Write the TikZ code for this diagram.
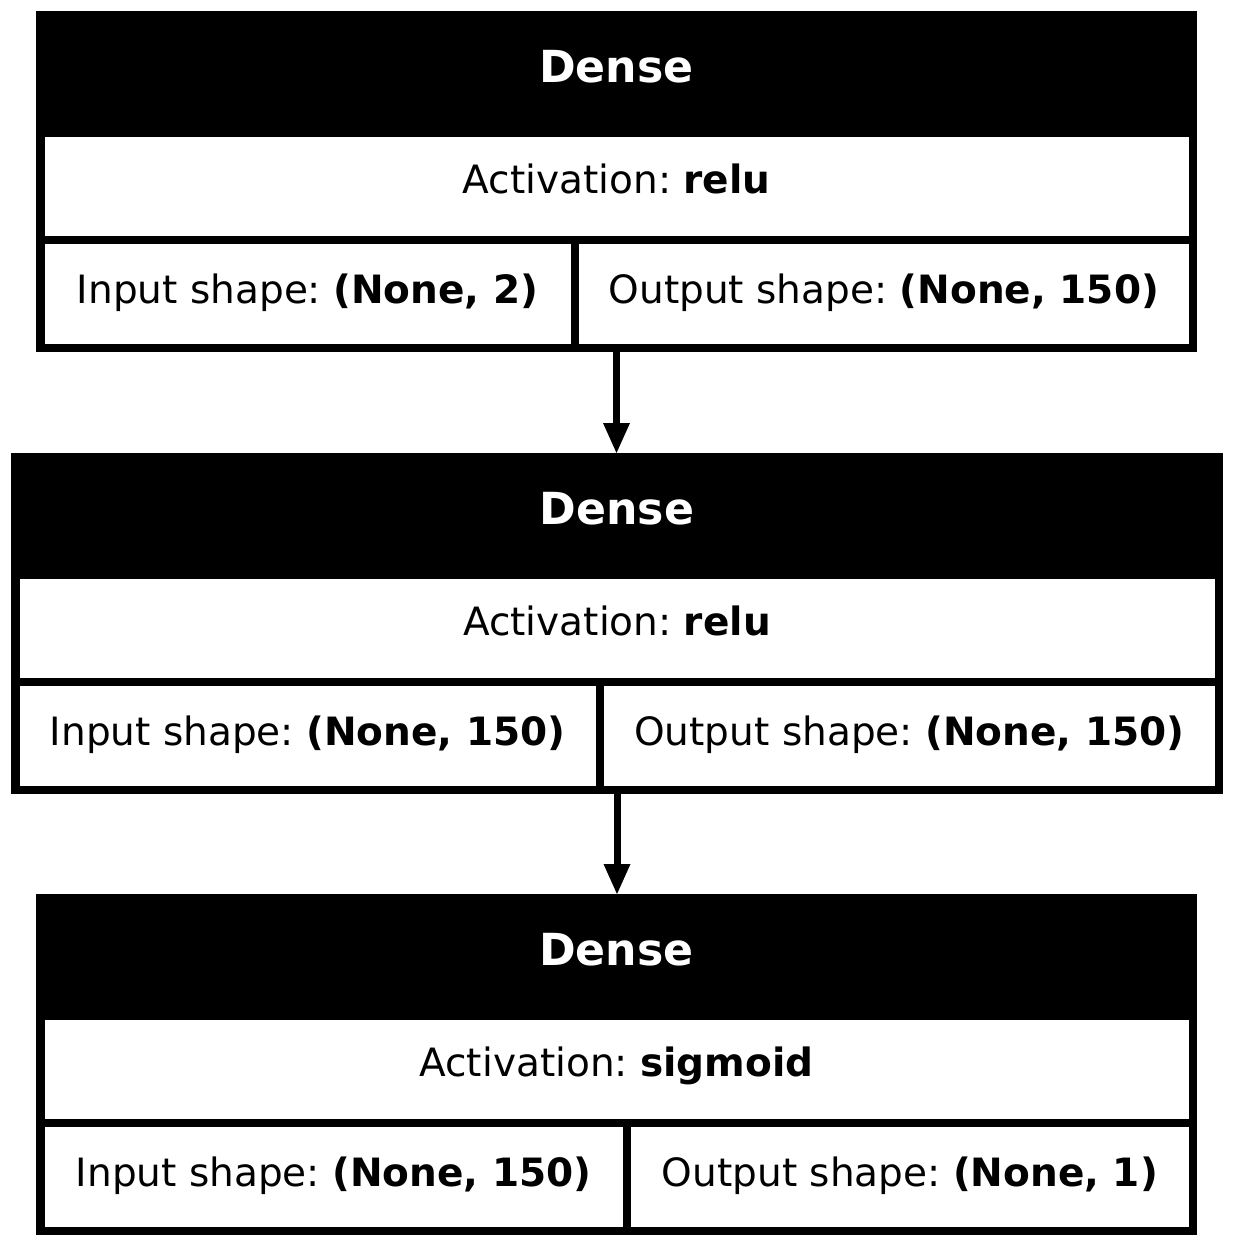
\documentclass[tikz,border=0pt]{standalone}
\usepackage{fontspec}
\setmainfont{DejaVu Sans}
\usetikzlibrary{arrows.meta}
\frenchspacing

\tikzset{
  layerframe/.style={draw=black, line width=8.5pt, inner sep=0pt, outer sep=4.25pt},
  cellrule/.style={draw=black, line width=8.5pt},
  titletext/.style={text=white, font=\fontsize{44.2}{52}\selectfont\bfseries, anchor=base, inner sep=0pt},
  celltext/.style={text=black, font=\fontsize{39}{47}\selectfont, anchor=base, inner sep=0pt},
  flow/.style={draw=black, line width=7pt, -{Triangle[length=30pt,width=27pt,line width=0pt]}},
}

% #1 name, #2 top, #3 left, #4 right, #5 divider x,
% #6 title, #7 activation, #8 input shape, #9 output shape
\newcommand{\layerblock}[9]{%
  \fill[black] (#3,#2) rectangle (#4,#2+126);
  \draw[cellrule] (#3,#2+229) -- (#4,#2+229);
  \draw[cellrule] (#5,#2+229) -- (#5,#2+337);
  \node[layerframe, minimum width={#4-#3-8.5}, minimum height={332.5}]
    (#1) at ({(#3+#4)/2},{#2+170.5}) {};
  \node[titletext] (#1-title) at ({(#3+#4)/2},{#2+71}) {#6};
  \node[celltext] (#1-act) at ({(#3+#4)/2},{#2+182}) {Activation: \textbf{#7}};
  \node[celltext] (#1-in) at ({(#3+8.5+#5-4.25)/2},{#2+292}) {Input shape: \textbf{#8}};
  \node[celltext] (#1-out) at ({(#5+4.25+#4-8.5)/2},{#2+292}) {Output shape: \textbf{#9}};
}

\begin{document}
\begin{tikzpicture}[x=1pt, y=-1pt]
  \fill[white] (0,0) rectangle (1233,1247);
  \useasboundingbox (0,0) rectangle (1233,1247);

  \layerblock{l1}{11}{36}{1197}{575}{Dense}{relu}{(None, 2)}{(None, 150)}
  \layerblock{l2}{453}{11}{1223}{600}{Dense}{relu}{(None, 150)}{(None, 150)}
  \layerblock{l3}{894}{36}{1197}{627}{Dense}{sigmoid}{(None, 150)}{(None, 1)}

  \draw[flow] (l1.south) -- (l1.south |- l2.north);
  \draw[flow] (l2.south) -- (l2.south |- l3.north);
\end{tikzpicture}
\end{document}
